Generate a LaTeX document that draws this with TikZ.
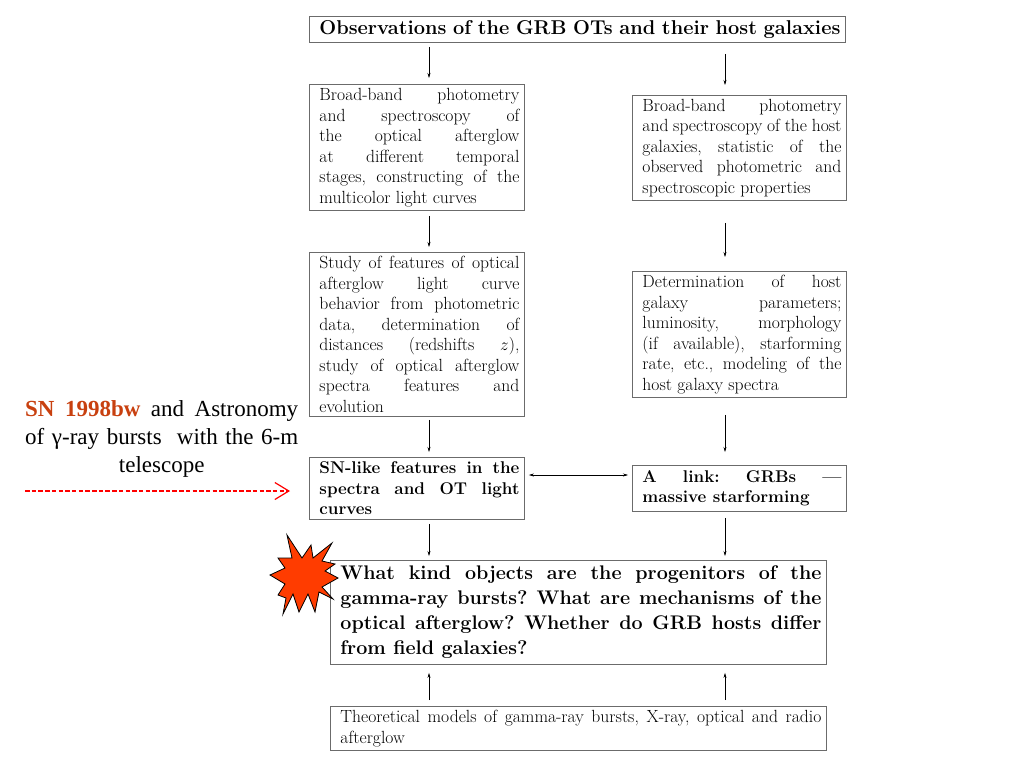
\documentclass[tikz,border=0pt]{standalone}
\usepackage{fontspec}
\usetikzlibrary{positioning, arrows.meta, calc}
\newfontfamily\slidefont{Liberation Serif}
\definecolor{boxline}{gray}{0.42}
\definecolor{snred}{HTML}{C8400F}
\definecolor{starred}{HTML}{FF3C00}
\tikzset{
  block/.style={draw=boxline, line width=0.9pt, minimum width=#1, text width=#1-10pt, inner xsep=0pt, inner ysep=0pt, align=justify, anchor=north west, font=\frenchspacing\fontsize{17.6}{20.5}\selectfont, execute at begin node={\leftskip=5pt}},
  block/.default=215pt,
  boldblock/.style={block=#1, font=\frenchspacing\bfseries\fontsize{17}{20.5}\selectfont},
  boldblock/.default=215pt,
  wideblock/.style={block=496pt, font=\frenchspacing\bfseries\fontsize{19.7}{25}\selectfont},
  arr/.style={-{Stealth[length=5pt, width=3pt]}, line width=0.5pt, black},
  darr/.style={{Stealth[length=5pt, width=3pt]}-{Stealth[length=5pt, width=3pt]}, line width=0.5pt},
  redarr/.style={-{Straight Barb[length=14pt, width=17pt]}, red, line width=1.2pt, dash pattern=on 4.5pt off 2.2pt},
  lbl/.style={anchor=north west, text width=273pt, inner sep=0pt, align=justify, font=\slidefont\fontsize{23}{28}\selectfont}
}
\begin{document}
\begin{tikzpicture}[x=1pt, y=-1pt]
\useasboundingbox (0,0) rectangle (1024,768);
\coordinate (leftx) at (429,0);
\coordinate (rightx) at (725,0);
% top box
\node[boldblock=536pt, minimum height=26pt, font=\bfseries\fontsize{20}{22}\selectfont, align=left] (obs) at (309,16) {Observations of the GRB OTs and their host galaxies};
% left column
\node[block, minimum height=126pt] (band) at (309,84) {Broad-band photometry\linebreak and spectroscopy of\linebreak the optical afterglow\linebreak at different temporal\linebreak stages, constructing of the\linebreak multicolor light curves};
\node[block, minimum height=164pt] (study) at (309,252) {Study of features of optical\linebreak afterglow light curve\linebreak behavior from photometric\linebreak data, determination of\linebreak distances (redshifts $z$),\linebreak study of optical afterglow\linebreak spectra features and\linebreak evolution};
\node[boldblock, minimum height=62pt] (snlike) at (309,457) {SN-like features in the\linebreak spectra and OT light\linebreak curves};
% right column
\node[block=214pt, minimum height=105pt] (hostband) at (632,95) {Broad-band photometry\linebreak and spectroscopy of the host\linebreak galaxies, statistic of the\linebreak observed photometric and\linebreak spectroscopic properties};
\node[block=214pt, minimum height=126pt] (hostpar) at (632,271) {Determination of host\linebreak galaxy parameters;\linebreak luminosity, morphology\linebreak (if available), starforming\linebreak rate, etc., modeling of the\linebreak host galaxy spectra};
\node[boldblock=214pt, minimum height=46pt] (link) at (632,465) {A link: GRBs ---\linebreak massive starforming};
% bottom
\node[wideblock, minimum height=104pt] (quest) at (330,560) {What kind objects are the progenitors of the\linebreak gamma-ray bursts? What are mechanisms of the\linebreak optical afterglow? Whether do GRB hosts differ\linebreak from field galaxies?};
\node[block=496pt, minimum height=44pt] (theory) at (330,706) {Theoretical models of gamma-ray bursts, X-ray, optical and radio\linebreak afterglow};
% arrows
\draw[arr, shorten <=4pt, shorten >=6pt] (obs.south -| leftx) -- (band.north -| leftx);
\draw[arr, shorten <=5pt, shorten >=5pt] (band.south -| leftx) -- (study.north -| leftx);
\draw[arr, shorten <=3pt, shorten >=5pt] (study.south -| leftx) -- (snlike.north -| leftx);
\draw[arr, shorten <=4pt, shorten >=4pt] (snlike.south -| leftx) -- (quest.north -| leftx);
\draw[arr, shorten <=11pt, shorten >=10pt] (obs.south -| rightx) -- (hostband.north -| rightx);
\draw[arr, shorten <=22pt, shorten >=14pt] (hostband.south -| rightx) -- (hostpar.north -| rightx);
\draw[arr, shorten <=17pt, shorten >=13pt] (hostpar.south -| rightx) -- (link.north -| rightx);
\draw[arr, shorten <=6pt, shorten >=4pt] (link.south -| rightx) -- (quest.north -| rightx);
\draw[arr, shorten <=6pt, shorten >=8pt] (theory.north -| leftx) -- (quest.south -| leftx);
\draw[arr, shorten <=6pt, shorten >=8pt] (theory.north -| rightx) -- (quest.south -| rightx);
\draw[darr, shorten <=4pt, shorten >=4pt] (snlike.east |- 0,475) -- (link.west |- 0,475);
% left label
\node[lbl] (sntext) at (25,400) {{\parfillskip=0pt \textcolor{snred}{\textbf{SN 1998bw}} and Astronomy\linebreak of γ-ray bursts\ \ with the 6-m\par}\centering telescope\par};
\coordinate (dashstart) at (25,491);
\draw[redarr, shorten >=19pt] (dashstart) -- (dashstart -| snlike.west);
% star
\filldraw[fill=starred, draw=black, line width=0.8pt, line join=miter] (287,535) -- (302,558) -- (311,545) -- (313,558) -- (332,543) -- (322,561) -- (335,564) -- (325,571) -- (338,578) -- (322,587) -- (333,599) -- (319,592) -- (315,612) -- (308,594) -- (299,612) -- (293,594) -- (283,614) -- (286,598) -- (278,595) -- (285,584) -- (270,575) -- (285,568) -- (278,558) -- (292,558) -- cycle;
\end{tikzpicture}
\end{document}
